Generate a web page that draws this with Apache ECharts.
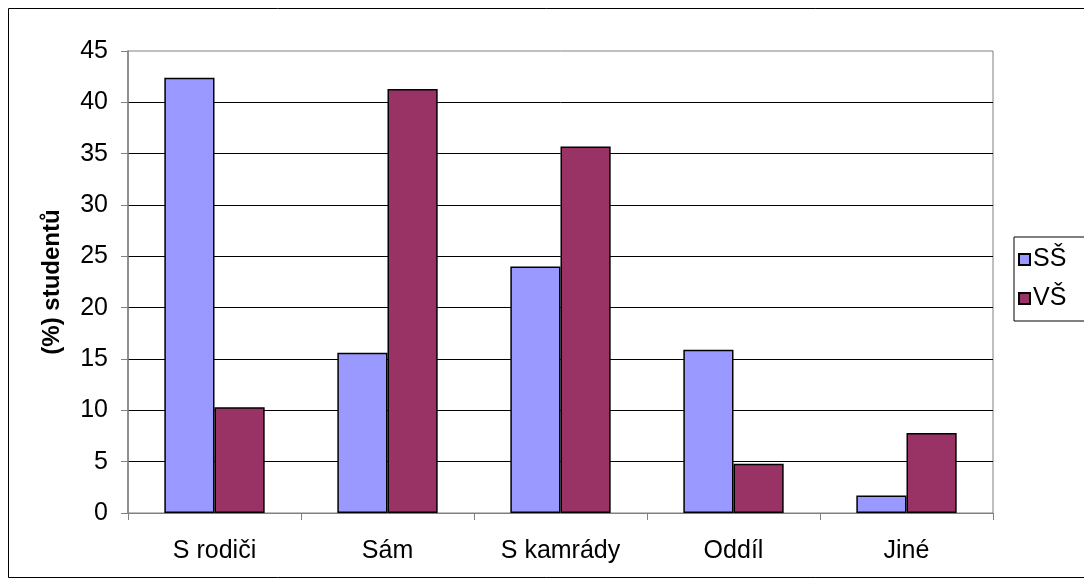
<!DOCTYPE html>
<html>
<head>
<meta charset="utf-8">
<script src="https://cdn.jsdelivr.net/npm/echarts@6/dist/echarts.min.js"></script>
<style>
html,body{margin:0;padding:0;background:#fff;}
#chart{width:1084px;height:586px;}
</style>
</head>
<body>
<div id="chart"></div>
<script>
const categories = ['S rodiči', 'Sám', 'S kamrády', 'Oddíl', 'Jiné'];
const seriesNames = ['SŠ', 'VŠ'];
const valuesSS = [42.4, 15.6, 24.0, 15.9, 1.7];
const valuesVS = [10.3, 41.3, 35.7, 4.8, 7.8];
const yTitle = '(%) studentů';

const font = '"Liberation Sans", Arial, sans-serif';
const chart = echarts.init(document.getElementById('chart'));
chart.setOption({
  animation: false,
  backgroundColor: '#fff',
  textStyle: { fontFamily: font },
  graphic: [{
    type: 'rect',
    shape: { x: 8.5, y: 8.5, width: 1100, height: 569 },
    style: { fill: 'none', stroke: '#000', lineWidth: 1 },
    z: -1
  }],
  grid: {
    left: 128, right: 91, top: 51, bottom: 73,
    show: true, borderColor: '#808080', borderWidth: 1, backgroundColor: '#fff'
  },
  legend: {
    orient: 'vertical',
    left: 1014, top: 237,
    data: seriesNames,
    icon: 'rect',
    itemWidth: 11, itemHeight: 11,
    itemGap: 14,
    padding: [10, 30, 10, 4],
    borderColor: '#000', borderWidth: 1,
    textStyle: { fontFamily: font, fontSize: 25, color: '#000', padding: [0, 0, 0, -2] }
  },
  xAxis: {
    type: 'category',
    data: categories,
    axisLine: { lineStyle: { color: '#808080', width: 1 } },
    axisTick: { show: true, length: 7, lineStyle: { color: '#808080' } },
    axisLabel: { fontFamily: font, fontSize: 25, color: '#000', margin: 26 },
    splitLine: { show: false }
  },
  yAxis: {
    type: 'value',
    min: 0, max: 45, interval: 5,
    name: yTitle,
    nameLocation: 'middle',
    nameGap: 64,
    nameRotate: 90,
    nameTextStyle: { fontFamily: font, fontSize: 24, fontWeight: 'bold', color: '#000' },
    axisLine: { show: true, lineStyle: { color: '#808080', width: 1.5 } },
    axisTick: { show: true, length: 7, lineStyle: { color: '#808080' } },
    axisLabel: { fontFamily: font, fontSize: 25, color: '#000', margin: 20 },
    splitLine: { show: true, showMinLine: false, showMaxLine: false, lineStyle: { color: '#000', width: 1 } }
  },
  series: [
    {
      name: seriesNames[0], type: 'bar', data: valuesSS,
      barGap: '0%', barCategoryGap: '42%',
      itemStyle: { color: '#9999FF', borderColor: '#000', borderWidth: 1.5 }
    },
    {
      name: seriesNames[1], type: 'bar', data: valuesVS,
      barGap: '0%', barCategoryGap: '42%',
      itemStyle: { color: '#993366', borderColor: '#000', borderWidth: 1.5 }
    }
  ]
});
</script>
</body>
</html>
